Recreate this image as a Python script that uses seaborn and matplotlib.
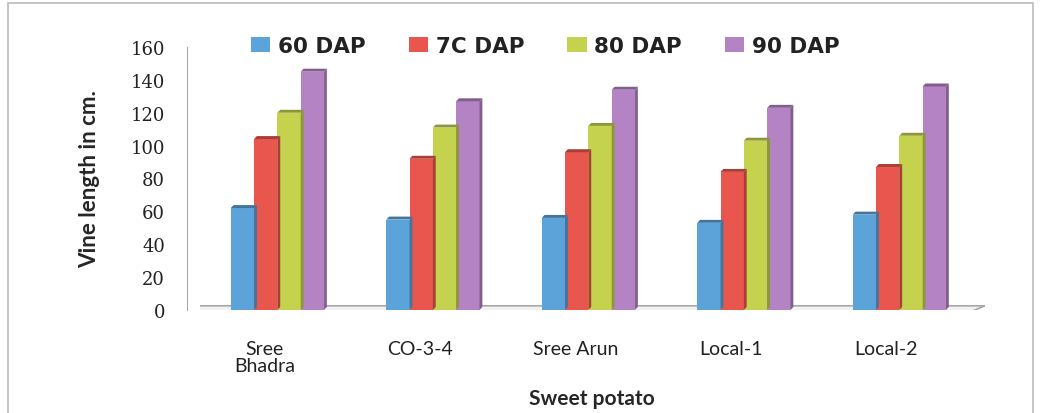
import numpy as np
import pandas as pd
import matplotlib
matplotlib.use("Agg")
import matplotlib.pyplot as plt
import matplotlib.transforms as mtransforms
import seaborn as sns
from matplotlib.patches import Rectangle, Polygon

# ----------- Data --------------
varieties = ["Sree\nBhadra", "CO-3-4", "Sree Arun", "Local-1", "Local-2"]
stages = ["60 DAP", "7C DAP", "80 DAP", "90 DAP"]
dap60 = [62, 55, 56, 53, 58]
dap70 = [104, 92, 96, 84, 87]
dap80 = [120, 111, 112, 103, 106]
dap90 = [145, 127, 134, 123, 136]
yticks = [0, 20, 40, 60, 80, 100, 120, 140, 160]

colors = ["#5BA3D9", "#E8564E", "#C4D24E", "#B483C4"]

df = pd.DataFrame({
    "variety": varieties * 4,
    "stage": [s for s in stages for _ in varieties],
    "length": dap60 + dap70 + dap80 + dap90,
})

# ----------- Plot --------------
sns.set_style("white")
fig = plt.figure(figsize=(10.4, 4.14), dpi=100)
ax = fig.add_axes([0.192, 0.249, 0.755, 0.635])

sns.barplot(data=df, x="variety", y="length", hue="stage", palette=colors,
            width=0.6, gap=0, ax=ax, edgecolor="none", saturation=1)

# fake 3D side faces, taken from the drawn bars
for p in ax.patches:
    if p.get_height() <= 0:
        continue
    x0, w, h = p.get_x(), p.get_width(), p.get_height()
    fc = p.get_facecolor()
    dark = tuple(c * 0.72 for c in fc[:3]) + (1,)
    side = Polygon([(x0 + w, 0), (x0 + w + w * 0.12, 1.8),
                    (x0 + w + w * 0.12, h + 1.8), (x0 + w, h)],
                   closed=True, facecolor=dark, edgecolor="none", zorder=p.get_zorder())
    ax.add_patch(side)
    top = Polygon([(x0, h), (x0 + w, h), (x0 + w + w * 0.12, h + 1.8),
                   (x0 + w * 0.12, h + 1.8)],
                  closed=True, facecolor=dark, edgecolor="none", zorder=p.get_zorder())
    ax.add_patch(top)

# floor
floor = Polygon([(-0.62, -1.5), (4.45, -1.5), (4.55, 2.5), (-0.52, 2.5)],
                closed=True, facecolor="#F2F2F2", edgecolor="#A8A8A8",
                linewidth=1.2, zorder=0)
ax.add_patch(floor)

ax.set_xlim(-0.5, 4.55)
ax.set_ylim(0, 160)
ax.set_yticks(yticks)
ax.tick_params(axis="y", length=4, color="#999999", pad=12, labelsize=13,
               labelcolor="#222222", labelfontfamily="DejaVu Serif")
ax.tick_params(axis="x", length=0, pad=22, labelsize=14, labelcolor="#222222",
               labelfontfamily="Lato")
ax.set_xticks(range(len(varieties)))
ax.set_xticklabels(varieties, linespacing=1.0)
shift = mtransforms.ScaledTranslation(-13 / 100, 0, fig.dpi_scale_trans)
for lab in ax.get_xticklabels():
    lab.set_transform(lab.get_transform() + shift)
for s in ["top", "right", "bottom"]:
    ax.spines[s].set_visible(False)
ax.spines["left"].set_color("#A8A8A8")
ax.spines["left"].set_position(("data", -0.58))

ax.set_xlabel("Sweet potato", family="Lato", fontsize=15, fontweight="bold",
              labelpad=10)
ax.set_ylabel("Vine length in cm.", family="Lato", fontsize=16,
              fontweight="bold", labelpad=22)

leg = ax.legend(loc="upper center", bbox_to_anchor=(0.44, 1.115), ncol=4,
                frameon=False, fontsize=15.5, handlelength=0.9, handleheight=0.7,
                columnspacing=2.0, handletextpad=0.35)
for t in leg.get_texts():
    t.set_fontweight("bold")
    t.set_color("#222222")

# scanned frame
fig.patches.append(Rectangle((0.008, -0.01), 0.985, 1.0, transform=fig.transFigure,
                             fill=False, edgecolor="#BBBBBB", linewidth=1.2))

fig.savefig("out.png", dpi=100)
